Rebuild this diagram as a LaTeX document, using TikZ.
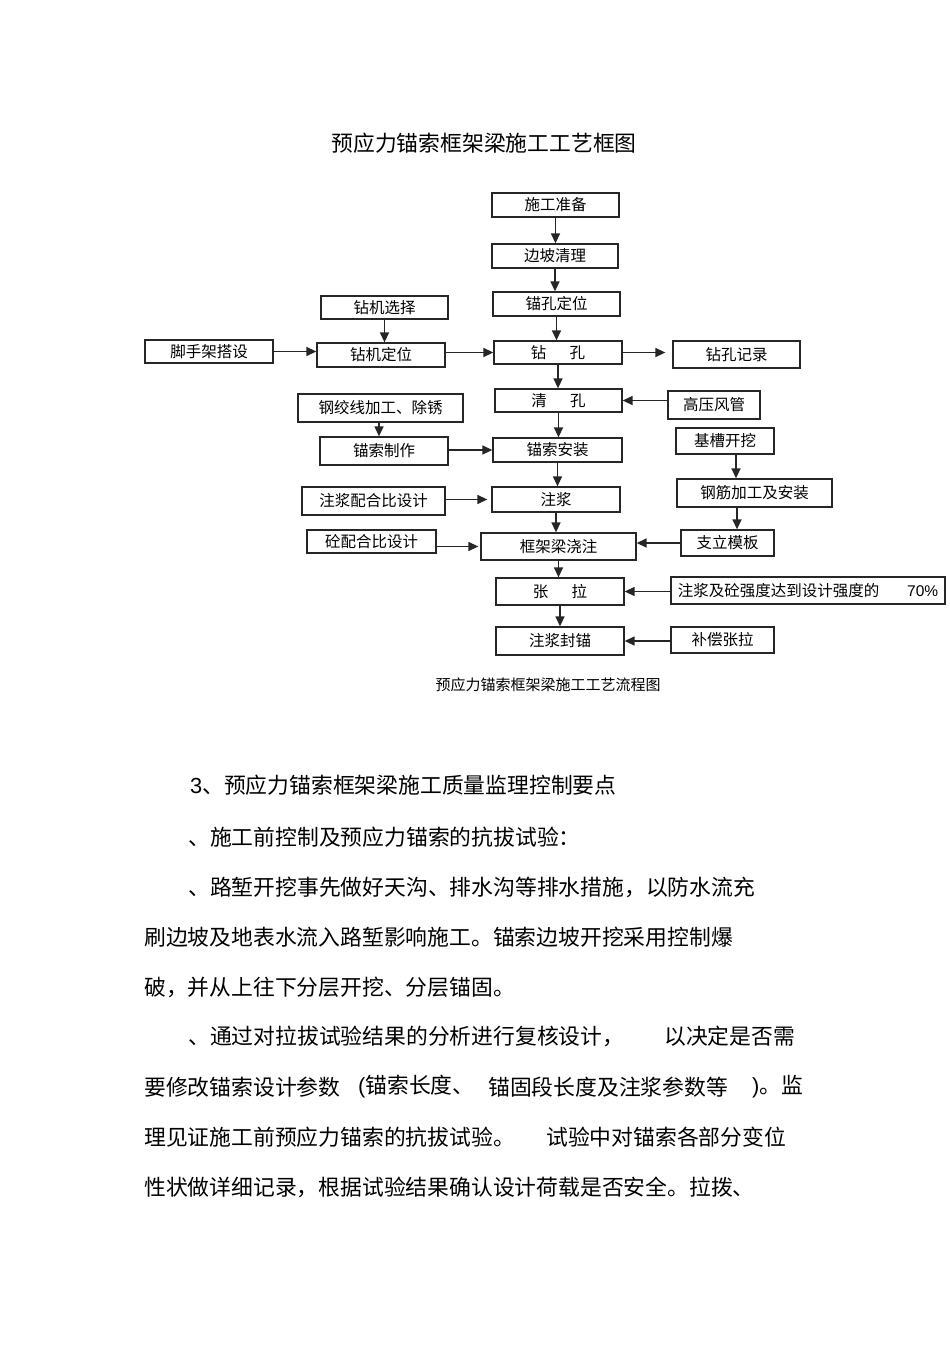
\documentclass[tikz,border=0pt]{standalone}
\usepackage{fontspec}
\setmainfont{Noto Sans CJK SC}
\newfontfamily\latf{Liberation Sans}
\usetikzlibrary{arrows.meta}
\newcommand\mybox[6]{\node[box, minimum width={#4-#2}, minimum height={#5-#3}] (#1) at ({(#2+#4)/2},{(#3+#5)/2}) {#6};}
\begin{document}
\begin{tikzpicture}[x=1pt,y=-1pt,
  box/.style={draw=black!85, line width=1.3pt, inner sep=0pt, font=\fontsize{15.5}{15.5}\selectfont},
  arr/.style={draw=black!85, line width=1.4pt, -{Triangle[length=10pt,width=9pt]}},
  body/.style={anchor=west, inner sep=0pt, font=\fontsize{21.8}{22}\selectfont},
  lbl/.style={inner sep=0pt}]
\path[use as bounding box, fill=white] (0,0) rectangle (950,1345);

\node[lbl, font=\fontsize{21.8}{22}\selectfont] (title) at (484,143) {预应力锚索框架梁施工工艺框图};

\mybox{prep}{492}{193}{619}{217}{施工准备}
\mybox{slope}{492}{244}{618}{268}{边坡清理}
\mybox{locate}{493}{292}{620}{316}{锚孔定位}
\mybox{drill}{494}{341}{622}{364}{钻\hspace{1.5em}孔}
\mybox{rec}{673}{341}{800}{368}{钻孔记录}
\mybox{msel}{321}{296}{448}{319}{钻机选择}
\mybox{mpos}{317}{343}{445}{367}{钻机定位}
\mybox{scaf}{145}{340}{273}{363}{脚手架搭设}
\mybox{clean}{495}{389}{622}{412}{清\hspace{1.5em}孔}
\mybox{air}{668}{391}{760}{419}{高压风管}
\mybox{strand}{298}{394}{463}{422}{钢绞线加工、除锈}
\mybox{make}{320}{437}{448}{465}{锚索制作}
\mybox{inst}{493}{438}{622}{462}{锚索安装}
\mybox{trench}{676}{428}{774}{454}{基槽开挖}
\mybox{grout}{492}{487}{620}{512}{注浆}
\mybox{rebar}{677}{479}{832}{507}{钢筋加工及安装}
\mybox{gmix}{302}{487}{445}{515}{注浆配合比设计}
\mybox{cmix}{307}{530}{436}{553}{砼配合比设计}
\mybox{beam}{481}{533}{636}{560}{框架梁浇注}
\mybox{form}{681}{530}{774}{556}{支立模板}
\mybox{tension}{496}{578}{624}{605}{张\hspace{1.5em}拉}
\mybox{cond}{671}{577}{945}{604}{注浆及砼强度达到设计强度的\hspace{1.8em}{\latf 70\%}}
\mybox{seal}{496}{627}{624}{655}{注浆封锚}
\mybox{comp}{671}{627}{774}{653}{补偿张拉}

% main column
\draw[arr] (prep.south) -- (prep.south |- slope.north);
\draw[arr] (slope.south) -- (slope.south |- locate.north);
\draw[arr] (locate.south) -- (locate.south |- drill.north);
\draw[arr] (drill.south) -- (drill.south |- clean.north);
\draw[arr] (clean.south) -- (clean.south |- inst.north);
\draw[arr] (inst.south) -- (inst.south |- grout.north);
\draw[arr] (grout.south) -- (grout.south |- beam.north);
\draw[arr] (beam.south) -- (beam.south |- tension.north);
\draw[arr] (tension.south) -- (tension.south |- seal.north);

% left side
\coordinate (lx1) at (379,0);
\draw[arr] (msel.south) -- (msel.south |- mpos.north);
\draw[arr] (scaf.east) -- (mpos.west |- scaf.east);
\draw[arr] (mpos.east |- drill.west) -- (drill.west);
\draw[arr] (strand.south -| lx1) -- (make.north -| lx1);
\draw[arr] (make.east |- inst.west) -- (inst.west);
\draw[arr] (gmix.east |- grout.west) -- ([xshift=-4pt]grout.west);
\draw[arr] (cmix.east |- beam.west) -- ([xshift=-2pt]beam.west);

% right side
\draw[arr, shorten >=7pt] (drill.east) -- (rec.west |- drill.east);
\draw[arr] (air.west |- clean.east) -- (clean.east);
\coordinate (rx1) at (736,0);
\coordinate (rx2) at (737,0);
\draw[arr] (trench.south -| rx1) -- (rebar.north -| rx1);
\draw[arr] (rebar.south -| rx2) -- (form.north -| rx2);
\draw[arr] (form.west) -- (beam.east |- form.west);
\draw[arr] (cond.west |- tension.east) -- (tension.east);
\draw[arr] (comp.west |- seal.east) -- (seal.east);

\node[lbl, font=\fontsize{15}{15}\selectfont] (cap) at (548,685) {预应力锚索框架梁施工工艺流程图};

% body text
\node[body] (t1) at (190,785) {{\latf 3}、预应力锚索框架梁施工质量监理控制要点};
\node[body] (t2) at (188,837) {、施工前控制及预应力锚索的抗拔试验：};
\node[body] (t3) at (188,887) {、路堑开挖事先做好天沟、排水沟等排水措施，以防水流充};
\node[body] (t4) at (144,937) {刷边坡及地表水流入路堑影响施工。锚索边坡开挖采用控制爆};
\node[body] (t5) at (144,987) {破，并从上往下分层开挖、分层锚固。};
\node[body] (t6a) at (188,1036) {、通过对拉拔试验结果的分析进行复核设计，};
\node[body] (t6b) at (664,1036) {以决定是否需};
\node[body] (t7a) at (144,1087) {要修改锚索设计参数};
\node[body] (t7b) at (358,1087) {{\latf (}锚索长度、};
\node[body] (t7c) at (488,1087) {锚固段长度及注浆参数等};
\node[body] (t7d) at (752,1087) {{\latf )}。监};
\node[body] (t8a) at (144,1137) {理见证施工前预应力锚索的抗拔试验。};
\node[body] (t8b) at (546,1137) {试验中对锚索各部分变位};
\node[body] (t9) at (144,1187) {性状做详细记录，根据试验结果确认设计荷载是否安全。拉拨、};
\end{tikzpicture}
\end{document}
